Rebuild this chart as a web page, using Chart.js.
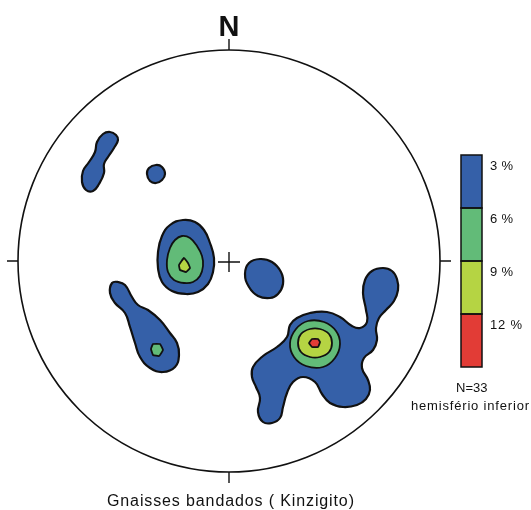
<!DOCTYPE html>
<html>
<head>
<meta charset="utf-8">
<script src="https://cdn.jsdelivr.net/npm/chart.js@4"></script>
<style>
  html, body { margin: 0; padding: 0; background: #ffffff; }
  canvas { display: block; }
</style>
</head>
<body>
<canvas id="net" width="531" height="510"></canvas>
<script>
// Lower-hemisphere net: outlines are given in net units, centre (0,0), primitive circle radius 211
const NET_RADIUS = 211;

const levelLabels = ['3 %', '6 %', '9 %', '12 %'];
const levelColors = ['#3560a8', '#62bb78', '#b5d443', '#e23c36'];
const sampleLabel = 'N=33';
const hemisphereLabel = 'hemisfério inferior';
const northLabel = 'N';
const titleText = 'Gnaisses bandados ( Kinzigito)';

// 3 % contours
const contour3NW = [[-126,127],[-119,129],[-113,126],[-111,121],[-115,113],[-121,104],[-125,97],[-125,88],[-130,77],[-136,70],[-143,71],[-147,79],[-146,90],[-140,99],[-134,109],[-132,119]];
const contour3N = [[-73,96],[-67,94],[-64,87],[-67,81],[-73,78],[-79,80],[-82,87],[-80,93]];
const contour3W = [[-46,41],[-34,39],[-25,31],[-19,18],[-15,3],[-16,-11],[-21,-23],[-31,-31],[-43,-33],[-57,-30],[-67,-21],[-71,-7],[-71,9],[-67,25],[-59,36]];
const contour3SW = [[-111,-21],[-104,-24],[-97,-36],[-91,-44],[-81,-49],[-69,-59],[-59,-72],[-52,-82],[-50,-94],[-54,-106],[-66,-111],[-79,-107],[-89,-96],[-94,-82],[-99,-66],[-104,-52],[-114,-42],[-119,-32],[-117,-22]];
const contour3C = [[31,2],[43,-1],[52,-11],[54,-23],[49,-33],[41,-37],[29,-35],[20,-26],[16,-13],[20,-2]];
const contour3SE = [[154,-7],[163,-10],[168,-18],[169,-29],[165,-40],[157,-49],[150,-57],[147,-67],[148,-79],[144,-89],[135,-97],[133,-107],[139,-119],[141,-129],[137,-138],[128,-144],[114,-146],[101,-142],[93,-133],[86,-121],[74,-116],[64,-121],[58,-132],[54,-146],[51,-157],[43,-162],[34,-161],[29,-151],[31,-137],[27,-126],[23,-116],[24,-106],[34,-95],[48,-86],[58,-76],[61,-64],[68,-57],[81,-52],[98,-51],[111,-56],[123,-65],[131,-67],[138,-61],[137,-49],[134,-32],[136,-19],[143,-10]];

// 6 % contours
const contour6W = [[-47,25],[-39,23],[-32,15],[-27,5],[-26,-5],[-29,-15],[-36,-21],[-45,-22],[-55,-19],[-61,-11],[-62,1],[-59,13],[-54,21]];
const contour6SW = [[-76,-83],[-69,-83],[-66,-89],[-70,-95],[-76,-94],[-78,-88]];
const contour6SE = [[111,-83],[107,-70],[95,-61],[79,-60],[67,-68],[61,-82],[65,-96],[77,-105],[94,-106],[106,-97]];

// 9 % contours
const contour9W = [[-45,3],[-41,-2],[-39,-7],[-43,-11],[-49,-9],[-50,-4]];
const contour9SE = [[103,-82],[100,-73],[91,-68],[81,-68],[72,-73],[69,-82],[72,-91],[81,-96],[91,-96],[100,-91]];

// 12 % contours
const contour12SE = [[91,-81],[89,-78],[83,-78],[80,-82],[83,-86],[89,-86]];

const contourSets = [
  { level: 0, smooth: 0.45, outlines: [contour3NW, contour3N, contour3W, contour3SW, contour3C, contour3SE] },
  { level: 1, smooth: 0.4, outlines: [contour6W, contour6SE] },
  { level: 1, smooth: 0.1, outlines: [contour6SW] },
  { level: 2, smooth: 0.4, outlines: [contour9SE] },
  { level: 2, smooth: 0.1, outlines: [contour9W] },
  { level: 3, smooth: 0.1, outlines: [contour12SE] }
];

const datasets = [];
contourSets.forEach(set => {
  set.outlines.forEach(outline => {
    datasets.push({
      data: outline.map(([x, y]) => ({ x, y })),
      fill: 'shape',
      backgroundColor: levelColors[set.level],
      borderColor: '#111111',
      borderWidth: set.level === 0 ? 2.2 : 1.8,
      pointRadius: 0,
      pointHoverRadius: 0,
      tension: set.smooth,
      order: 10 - set.level
    });
  });
});

// Turn every outline into a closed, smoothly joined ring
const closedRings = {
  id: 'closedRings',
  afterDatasetUpdate(chart, args) {
    const line = args.meta.dataset;
    if (line) {
      line._loop = true;
      line._fullLoop = true;
    }
  }
};

function spreadText(ctx, text, x, y, width) {
  ctx.letterSpacing = '0px';
  const natural = ctx.measureText(text).width;
  const n = Array.from(text).length;
  const gap = n > 1 ? Math.max(0, (width - natural) / (n - 1)) : 0;
  ctx.letterSpacing = gap.toFixed(2) + 'px';
  ctx.textAlign = 'left';
  ctx.fillText(text, x, y);
  ctx.letterSpacing = '0px';
}

// Primitive circle, ticks, centre cross, north label, scale bar and captions
const netFrame = {
  id: 'netFrame',
  afterDraw(chart) {
    const ctx = chart.ctx;
    const xs = chart.scales.x, ys = chart.scales.y;
    const cx = xs.getPixelForValue(0), cy = ys.getPixelForValue(0);
    const r = xs.getPixelForValue(NET_RADIUS) - cx;
    ctx.save();
    ctx.strokeStyle = '#111111';
    ctx.lineWidth = 1.6;
    ctx.beginPath();
    ctx.arc(cx, cy, r, 0, Math.PI * 2);
    ctx.stroke();

    const tick = 11;
    ctx.lineWidth = 1.4;
    ctx.beginPath();
    ctx.moveTo(cx, cy - r); ctx.lineTo(cx, cy - r - tick);
    ctx.moveTo(cx, cy + r); ctx.lineTo(cx, cy + r + tick);
    ctx.moveTo(cx - r, cy); ctx.lineTo(cx - r - tick, cy);
    ctx.moveTo(cx + r, cy); ctx.lineTo(cx + r + tick, cy);
    // centre cross
    ctx.moveTo(cx - 11, cy + 1); ctx.lineTo(cx + 11, cy + 1);
    ctx.moveTo(cx, cy - 9); ctx.lineTo(cx, cy + 11);
    ctx.stroke();

    ctx.fillStyle = '#111111';
    ctx.font = 'bold 29px "Liberation Sans", Arial, sans-serif';
    ctx.textAlign = 'center';
    ctx.textBaseline = 'alphabetic';
    ctx.fillText(northLabel, cx, cy - r - 14);

    // contour scale bar
    const barX = 461, barW = 21, barTop = 155, segH = 53;
    levelColors.forEach((c, i) => {
      ctx.fillStyle = c;
      ctx.fillRect(barX, barTop + i * segH, barW, segH);
    });
    ctx.strokeStyle = '#111111';
    ctx.lineWidth = 1.5;
    for (let i = 0; i < levelColors.length; i++) {
      ctx.strokeRect(barX, barTop + i * segH, barW, segH);
    }
    ctx.fillStyle = '#111111';
    ctx.font = '13px "Liberation Sans", Arial, sans-serif';
    const labelWidths = [23, 23, 23, 32];
    levelLabels.forEach((t, i) => {
      spreadText(ctx, t, 490, barTop + 15 + i * segH, labelWidths[i]);
    });

    ctx.font = '13px "Liberation Sans", Arial, sans-serif';
    spreadText(ctx, sampleLabel, 456, 392, 31);
    spreadText(ctx, hemisphereLabel, 411, 410, 118);

    ctx.font = '16px "Liberation Sans", Arial, sans-serif';
    spreadText(ctx, titleText, 107, 506, 247);
    ctx.restore();
  }
};

new Chart(document.getElementById('net'), {
  type: 'line',
  data: { datasets },
  options: {
    responsive: false,
    animation: false,
    devicePixelRatio: 1,
    layout: { padding: { left: 18, right: 91, top: 50, bottom: 38 } },
    scales: {
      x: { type: 'linear', min: -NET_RADIUS, max: NET_RADIUS, display: false },
      y: { type: 'linear', min: -NET_RADIUS, max: NET_RADIUS, display: false }
    },
    plugins: {
      legend: { display: false },
      tooltip: { enabled: false },
      filler: { propagate: false }
    },
    elements: { line: { capBezierPoints: false } }
  },
  plugins: [closedRings, netFrame]
});
</script>
</body>
</html>
